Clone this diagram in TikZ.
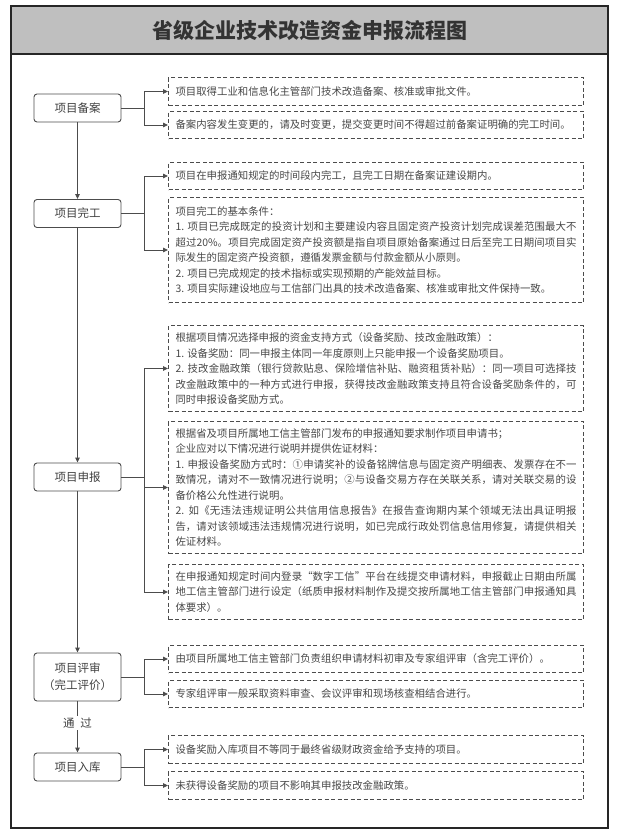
\documentclass[tikz,border=0pt]{standalone}
\usepackage{fontspec}
\newfontfamily\cjk{Noto Sans CJK SC}
\usetikzlibrary{arrows.meta}
\XeTeXlinebreaklocale "zh"
\XeTeXlinebreakskip=0pt plus 1pt
\tikzset{
  frameline/.style={draw=black!85, line width=1.3pt},
  band/.style={fill=black!25, draw=black!85, line width=1.3pt},
  stage/.style={draw=black!70, line width=0.9pt, rounded corners=3pt,
    minimum width=87pt, minimum height=28pt, align=center, inner sep=2pt,
    font=\cjk\fontsize{11.5}{16.7}\selectfont, text=black!75},
  note/.style={draw=black!70, line width=1pt, dash pattern=on 4pt off 2.5pt,
    anchor=north west, text width=401pt, inner xsep=7pt, inner ysep=3pt,
    align=justify, font=\cjk\fontsize{10.4}{15.5}\selectfont, text=black!72},
  link/.style={draw=black!70, line width=0.9pt},
  arr/.style={link, -{Triangle[length=5pt,width=4.5pt]}},
}
\begin{document}
\begin{tikzpicture}[x=1pt,y=-1pt]
\useasboundingbox (0,0) rectangle (617,838);
% frame and title
\draw[frameline] (11,6) rectangle (608,828);
\path[band] (11,6) rectangle (608,54);
\node[font=\cjk\fontsize{21}{24}\selectfont\bfseries, text=black!80] (title) at (309.5,30) {省级企业技术改造资金申报流程图};

% stages
\node[stage] (s1) at (77.5,108) {项目备案};
\node[stage] (s2) at (77.5,213.5) {项目完工};
\node[stage] (s3) at (77.5,477) {项目申报};
\node[stage, minimum height=48pt] (s4) at (77.5,677) {项目评审\\（完工评价）};
\node[stage] (s5) at (77.5,767) {项目入库};

% notes
\node[note, minimum height=28pt] (b1) at (168,77) {项目取得工业和信息化主管部门技术改造备案、核准或审批文件。};
\node[note, minimum height=27pt] (b2) at (168,111) {备案内容发生变更的，请及时变更，提交变更时间不得超过前备案证明确的完工时间。};
\node[note, minimum height=27pt] (b3) at (168,162) {项目在申报通知规定的时间段内完工，且完工日期在备案证建设期内。};
\node[note, minimum height=105pt] (b4) at (168,197) {项目完工的基本条件：\par
1. 项目已完成既定的投资计划和主要建设内容且固定资产投资计划完成误差范围最大不\linebreak
超过20\%。项目完成固定资产投资额是指自项目原始备案通过日后至完工日期间项目实\linebreak
际发生的固定资产投资额，遵循发票金额与付款金额从小原则。\par
2. 项目已完成规定的技术指标或实现预期的产能效益目标。\par
3. 项目实际建设地应与工信部门出具的技术改造备案、核准或审批文件保持一致。};
\node[note, minimum height=86pt] (b5) at (168,325) {根据项目情况选择申报的资金支持方式（设备奖励、技改金融政策）：\par
1. 设备奖励：同一申报主体同一年度原则上只能申报一个设备奖励项目。\par
2. 技改金融政策（银行贷款贴息、保险增信补贴、融资租赁补贴）：同一项目可选择技\linebreak
改金融政策中的一种方式进行申报，获得技改金融政策支持且符合设备奖励条件的，可\linebreak
同时申报设备奖励方式。};
\node[note, minimum height=132pt] (b6) at (168,421) {根据省及项目所属地工信主管部门发布的申报通知要求制作项目申请书；\par
企业应对以下情况进行说明并提供佐证材料：\par
1. 申报设备奖励方式时：①申请奖补的设备铭牌信息与固定资产明细表、发票存在不一\linebreak
致情况，请对不一致情况进行说明；②与设备交易方存在关联关系，请对关联交易的设\linebreak
备价格公允性进行说明。\par
2. 如《无违法违规证明公共信用信息报告》在报告查询期内某个领域无法出具证明报\linebreak
告，请对该领域违法违规情况进行说明，如已完成行政处罚信息信用修复，请提供相关\linebreak
佐证材料。};
\node[note, minimum height=55pt] (b7) at (168,564) {在申报通知规定时间内登录“数字工信”平台在线提交申请材料，申报截止日期由所属\linebreak
地工信主管部门进行设定（纸质申报材料制作及提交按所属地工信主管部门申报通知具\linebreak
体要求）。};
\node[note, minimum height=27pt] (b8) at (168,645) {由项目所属地工信主管部门负责组织申请材料初审及专家组评审（含完工评价）。};
\node[note, minimum height=27pt] (b9) at (168,680) {专家组评审一般采取资料审查、会议评审和现场核查相结合进行。};
\node[note, minimum height=28pt] (b10) at (168,735) {设备奖励入库项目不等同于最终省级财政资金给予支持的项目。};
\node[note, minimum height=28pt] (b11) at (168,771) {未获得设备奖励的项目不影响其申报技改金融政策。};

% junctions
\coordinate (j1) at (144,108);
\coordinate (j2) at (144,213.5);
\coordinate (j3) at (144,477);
\coordinate (j4) at (144,677);
\coordinate (j5) at (144,767);

% main flow
\draw[arr] (s1) -- (s2);
\draw[arr] (s2) -- (s3);
\draw[arr] (s3) -- (s4);
\draw[arr] (s4) -- node[pos=0.42, fill=white, inner sep=2pt, font=\cjk\fontsize{11.5}{14}\selectfont, text=black!75] (pass) {通\hspace{0.5em}过} (s5);

% branches
\draw[link] (s1) -- (j1);
\draw[arr] (j1) |- (b1);
\draw[arr] (j1) |- (b2);
\draw[link] (s2) -- (j2);
\draw[arr] (j2) |- (b3);
\draw[arr] (j2) |- (b4);
\draw[link] (s3) -- (j3);
\draw[arr] (j3) |- (b5);
\draw[arr] (j3) |- (b6);
\draw[arr] (j3) |- (b7);
\draw[link] (s4) -- (j4);
\draw[arr] (j4) |- (b8);
\draw[arr] (j4) |- (b9);
\draw[link] (s5) -- (j5);
\draw[arr] (j5) |- (b10);
\draw[arr] (j5) |- (b11);
\end{tikzpicture}
\end{document}
